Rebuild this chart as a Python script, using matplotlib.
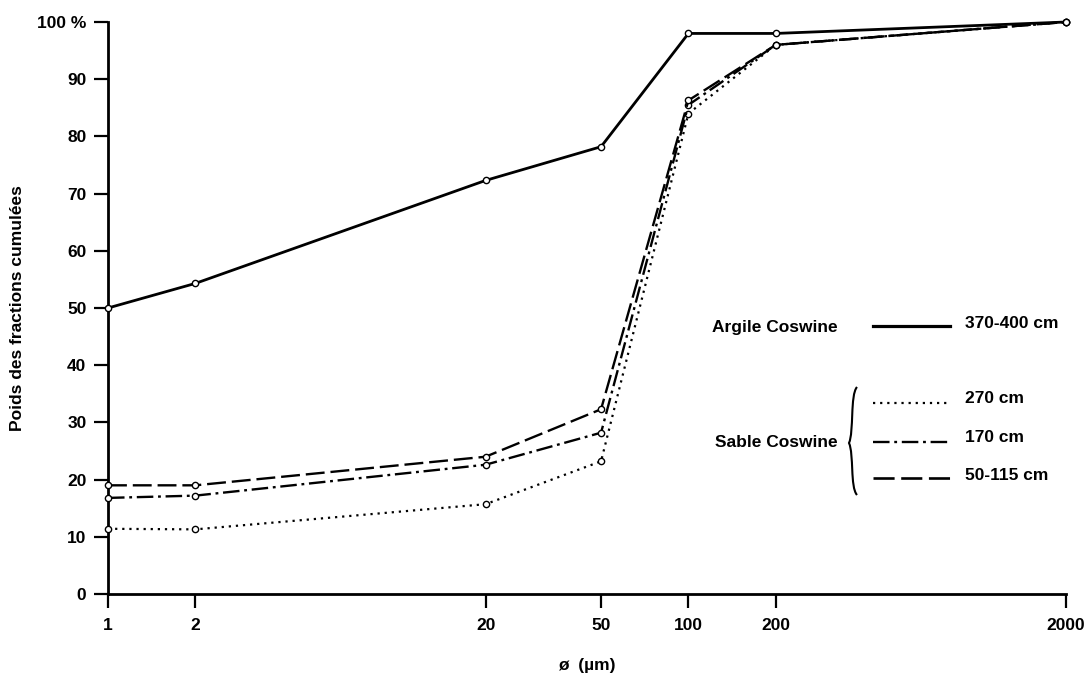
import numpy as np
import matplotlib
matplotlib.use("Agg")
from matplotlib import pyplot as plt
from matplotlib.path import Path
from matplotlib.patches import PathPatch

plt.rcParams['font.family'] = ['Liberation Sans', 'DejaVu Sans']

# diametres (µm) et poids cumulés (%)
diam = [1, 2, 20, 50, 100, 200, 2000]
argile_370_400 = [50.0, 54.3, 72.3, 78.2, 98.0, 98.0, 100.0]
sable_270 = [11.4, 11.3, 15.7, 23.2, 84.0, 96.0, 100.0]
sable_170 = [16.8, 17.2, 22.6, 28.2, 85.5, 96.0, 100.0]
sable_50_115 = [19.0, 19.0, 24.0, 32.3, 86.3, 96.0, 100.0]
xtick_labels = ["1", "2", "20", "50", "100", "200", "2000"]
ytick_labels = ["0", "10", "20", "30", "40", "50", "60", "70", "80", "90", "100 %"]

FS = 12.5

fig = plt.figure(figsize=(10.87, 6.75), dpi=100)
ax = fig.add_axes([108/1087, 1-594/675, (1066-108)/1087, (594-22)/675])

mk = dict(marker='o', markersize=4.5, markerfacecolor='white', markeredgecolor='black',
          markeredgewidth=1.0, color='black', clip_on=False, zorder=3)

ls_270 = (0, (1, 2.2))
ls_170 = (0, (7, 2, 1.2, 2))
ls_50 = (0, (8, 2.5))

ax.plot(diam, sable_270, linestyle=ls_270, linewidth=1.6, **mk)
ax.plot(diam, sable_170, linestyle=ls_170, linewidth=1.7, **mk)
ax.plot(diam, sable_50_115, linestyle=ls_50, linewidth=1.7, **mk)
ax.plot(diam, argile_370_400, linestyle='-', linewidth=2.0, **mk)

ax.set_xscale('log')
ax.set_xlim(1, 2000)
ax.set_ylim(0, 100)
ax.set_xticks(diam)
ax.set_xticklabels(xtick_labels)
ax.xaxis.set_minor_locator(matplotlib.ticker.NullLocator())
ax.set_yticks(np.arange(0, 101, 10))
ax.set_yticklabels(ytick_labels)

for s in ['top', 'right']:
    ax.spines[s].set_visible(False)
for s in ['left', 'bottom']:
    ax.spines[s].set_linewidth(2.0)
ax.tick_params(axis='y', direction='out', length=10, width=1.6, labelsize=FS, pad=5.5)
ax.tick_params(axis='x', direction='out', length=10, width=1.6, labelsize=FS, pad=7.5)
for lab in ax.get_xticklabels() + ax.get_yticklabels():
    lab.set_fontweight('bold')

ax.set_xlabel("ø  (µm)", fontsize=FS, fontweight='bold')
ax.xaxis.set_label_coords(0.5, (594-658)/572)
ax.set_ylabel("Poids des fractions cumulées", fontsize=FS, fontweight='bold')
ax.yaxis.set_label_coords((25-108)/958, 0.5)

# légende manuelle (coordonnées figure en pixels)
def fx(px):
    return px / 1087

def fy(py):
    return 1 - py / 675

fig.text(fx(712), fy(332), "Argile Coswine", fontsize=FS, fontweight='bold', va='baseline')
fig.text(fx(715), fy(447), "Sable Coswine", fontsize=FS, fontweight='bold', va='baseline')

leg = [
    (326, 328, '-', 2.3, "370-400 cm"),
    (403, 403, ls_270, 1.6, "270 cm"),
    (442, 442, ls_170, 1.7, "170 cm"),
    (478, 480, ls_50, 1.9, "50-115 cm"),
]
for ly, ty, ls, lw, txt in leg:
    fig.add_artist(plt.Line2D([fx(873), fx(950)], [fy(ly), fy(ly)], color='black',
                              linestyle=ls, linewidth=lw, transform=fig.transFigure))
    fig.text(fx(965), fy(ty), txt, fontsize=FS, fontweight='bold', va='baseline')

# accolade
verts = [
    (fx(857), fy(387)),
    (fx(850), fy(395)), (fx(854), fy(432)), (fx(849), fy(443)),
    (fx(854), fy(454)), (fx(850), fy(487)), (fx(857), fy(495)),
]
codes = [Path.MOVETO, Path.CURVE4, Path.CURVE4, Path.CURVE4,
         Path.CURVE4, Path.CURVE4, Path.CURVE4]
fig.add_artist(PathPatch(Path(verts, codes), fill=False, linewidth=1.5,
                         edgecolor='black', transform=fig.transFigure))

fig.savefig("out.png", dpi=100)
